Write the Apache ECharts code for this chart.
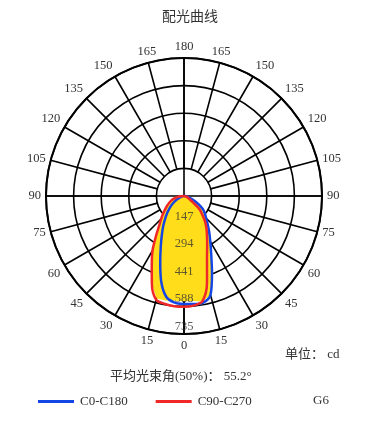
<!DOCTYPE html>
<html><head><meta charset="utf-8">
<script src="https://cdn.jsdelivr.net/npm/echarts@6/dist/echarts.min.js"></script>
<style>html,body{margin:0;padding:0;background:#fff}#c{width:380px;height:430px}</style>
</head><body><div id="c"></div>
<script>
// gamma angles (degrees from nadir), 5° steps
var gammas = [0,5,10,15,20,25,30,35,40,45,50,55,60,65,70,75,80,85,90];
// C0-C180 (blue): left half / right half (cd)
var blueLeft  = [573,570,545,470,370,292,235,192,155,125,100,78,55,38,25,15,8,3,0];
var blueRight = [575,578,578,545,436,343,280,234,196,166,145,123,92,62,42,26,14,5,0];
// C90-C270 (red)
var redLeft   = [590,589,584,572,500,406,335,260,205,172,145,122,104,88,73,58,40,20,0];
var redRight  = [590,586,568,474,358,292,245,208,172,135,105,55,35,25,17,10,5,2,0];
// yellow fill (G6)
var fillLeft  = [560,560,565,565,500,406,335,260,205,172,145,122,104,88,73,58,40,20,0];
var fillRight = [560,562,570,545,436,343,280,234,196,166,145,123,92,62,42,26,14,5,0];
// radial tick labels (cd)
var ringTicks = [147,294,441,588,735];
var ringMax = 735;

function curve(left, right){
  var pts = [];
  for (var i = gammas.length-1; i >= 0; i--) pts.push([right[i], 360 - gammas[i]]);
  for (var j = 1; j < gammas.length; j++) pts.push([left[j], gammas[j]]);
  return pts;
}
var FONT = "'Liberation Serif','Noto Sans CJK SC',serif";
var TXT = '#333';
var chart = echarts.init(document.getElementById('c'));
chart.setOption({
  animation:false,
  title:[
    {text:'配光曲线', left:'center', top:5, textStyle:{fontSize:14, fontWeight:'normal', color:TXT, fontFamily:FONT}},
    {text:'单位： cd', left:280, top:343, textStyle:{fontSize:13, fontWeight:'normal', color:TXT, fontFamily:FONT}},
    {text:'平均光束角(50%)： 55.2°', left:105, top:365, textStyle:{fontSize:13, fontWeight:'normal', color:TXT, fontFamily:FONT}},
    {text:'G6', left:308, top:389, textStyle:{fontSize:13, fontWeight:'normal', color:TXT, fontFamily:FONT}}
  ],
  legend:{
    left:33, top:390, itemWidth:36, itemHeight:3, itemGap:28, icon:'rect',
    data:['C0-C180','C90-C270'],
    textStyle:{fontSize:13, color:TXT, fontFamily:FONT, padding:[0,0,0,1]}
  },
  polar:[
    {center:[184,196], radius:138},
    {center:[184,196], radius:[27.6,138]}
  ],
  angleAxis:[
    {polarIndex:0, type:'value', startAngle:270, clockwise:true, min:0, max:360, interval:90,
     axisLine:{show:true, lineStyle:{color:'#000', width:2}},
     axisTick:{show:false}, axisLabel:{show:false},
     splitLine:{show:true, lineStyle:{color:'#000', width:1.6}}},
    {polarIndex:1, type:'value', startAngle:270, clockwise:true, min:0, max:360, interval:15,
     axisLine:{show:false}, axisTick:{show:false},
     axisLabel:{show:true, margin:5, fontSize:12.5, color:TXT, fontFamily:FONT,
       formatter:function(v){ if (v>=360) return ''; return String(v<=180 ? v : 360-v); }},
     splitLine:{show:true, lineStyle:{color:'#000', width:1.6}}}
  ],
  radiusAxis:[
    {polarIndex:0, type:'value', min:0, max:ringMax, interval:147,
     axisLine:{show:false}, axisTick:{show:false}, axisLabel:{show:false},
     splitLine:{show:true, lineStyle:{color:'#000', width:1.6}}},
    {polarIndex:1, type:'value', min:0, max:ringMax,
     axisLine:{show:false}, axisTick:{show:false}, axisLabel:{show:false}, splitLine:{show:false}}
  ],
  series:[
    {name:'G6', type:'line', coordinateSystem:'polar', polarIndex:0, data:curve(fillLeft, fillRight),
     symbol:'none', lineStyle:{width:0, color:'#FFDD1A'}, areaStyle:{color:'#FFDD1A', opacity:1}, z:3},
    {name:'C0-C180', type:'line', coordinateSystem:'polar', polarIndex:0, data:curve(blueLeft, blueRight),
     symbol:'none', smooth:0.3, lineStyle:{width:2.5, color:'#1446E6'}, itemStyle:{color:'#1446E6'}, z:4},
    {name:'C90-C270', type:'line', coordinateSystem:'polar', polarIndex:0, data:curve(redLeft, redRight),
     symbol:'none', smooth:0.3, lineStyle:{width:2.5, color:'#F02828'}, itemStyle:{color:'#F02828'}, z:5},
    {name:'ticks', type:'scatter', coordinateSystem:'polar', polarIndex:0, symbolSize:2,
     itemStyle:{color:'rgba(0,0,0,0)'}, silent:true, z:10,
     data:ringTicks.map(function(t){ return [t, 0]; }),
     label:{show:true, position:'top', distance:0, fontSize:12.5, color:TXT, fontFamily:FONT,
       formatter:function(p){ return String(p.value[0]); }},
     labelLayout:{hideOverlap:false}}
  ]
});
</script></body></html>
